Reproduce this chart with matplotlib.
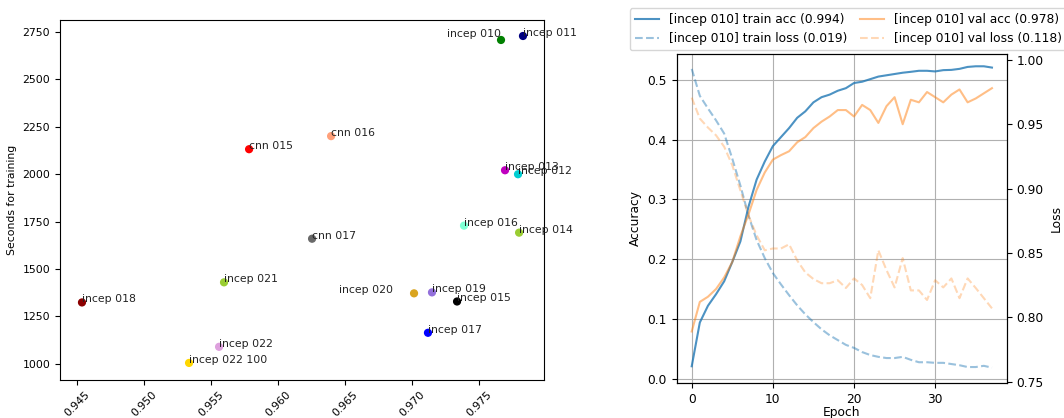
import numpy as np
import matplotlib
matplotlib.use("Agg")
import matplotlib.pyplot as plt

# --- scatter: accuracy vs training time ---
model_names = ["incep 010", "incep 011", "incep 012", "incep 013", "incep 014",
               "incep 015", "incep 016", "incep 017", "incep 018", "incep 019",
               "incep 020", "incep 021", "incep 022", "incep 022 100",
               "cnn 015", "cnn 016", "cnn 017"]
model_acc = [0.97664, 0.97828, 0.97791, 0.97694, 0.97799,
             0.97336, 0.97388, 0.97119, 0.94537, 0.97149,
             0.97015, 0.95597, 0.9556, 0.95336,
             0.95784, 0.96396, 0.96254]
model_secs = [2708, 2729, 2000, 2021, 1692,
              1329, 1729, 1164, 1324, 1377,
              1372, 1430, 1090, 1005,
              2132, 2201, 1660]
model_colors = ["green", "navy", "darkturquoise", "m", "yellowgreen",
                "black", "aquamarine", "blue", "darkred", "mediumpurple",
                "goldenrod", "yellowgreen", "plum", "gold",
                "red", "lightsalmon", "dimgray"]

# --- training history of incep 010 ---
epochs = list(range(38))
train_acc = [0.762, 0.796, 0.809, 0.818, 0.828, 0.843, 0.859, 0.886, 0.907, 0.921,
             0.933, 0.940, 0.947, 0.955, 0.960, 0.967, 0.971, 0.973, 0.976, 0.978,
             0.982, 0.983, 0.985, 0.987, 0.988, 0.989, 0.990, 0.9907, 0.9915, 0.9915,
             0.991, 0.992, 0.9922, 0.993, 0.9945, 0.995, 0.995, 0.994]
val_acc = [0.789, 0.812, 0.816, 0.822, 0.831, 0.843, 0.863, 0.880, 0.899, 0.9125,
           0.9225, 0.926, 0.929, 0.936, 0.940, 0.947, 0.952, 0.956, 0.961, 0.961,
           0.956, 0.965, 0.961, 0.951, 0.964, 0.971, 0.950, 0.969, 0.967, 0.975,
           0.971, 0.967, 0.973, 0.977, 0.967, 0.970, 0.974, 0.978]
train_loss = [0.518, 0.473, 0.452, 0.432, 0.410, 0.368, 0.323, 0.273, 0.232, 0.202,
              0.177, 0.158, 0.140, 0.123, 0.108, 0.095, 0.083, 0.073, 0.065, 0.057,
              0.052, 0.045, 0.040, 0.037, 0.035, 0.035, 0.037, 0.032, 0.028, 0.028,
              0.027, 0.027, 0.025, 0.023, 0.020, 0.020, 0.022, 0.019]
val_loss = [0.470, 0.435, 0.420, 0.407, 0.388, 0.357, 0.315, 0.273, 0.240, 0.215,
            0.218, 0.218, 0.225, 0.198, 0.178, 0.167, 0.160, 0.160, 0.165, 0.152,
            0.168, 0.157, 0.135, 0.215, 0.182, 0.153, 0.202, 0.148, 0.148, 0.132,
            0.165, 0.153, 0.168, 0.135, 0.168, 0.152, 0.135, 0.118]

# label placement tweaks (offset in points, horizontal alignment)
label_style = {"incep 010": ((0, 2), "right"), "incep 020": ((-15, 0), "right")}

fig = plt.figure(figsize=(10.64, 4.18), dpi=100)

ax1 = fig.add_axes([0.0564, 0.0909, 0.4549, 0.8611])
ax1.scatter(model_acc, model_secs, c=model_colors, s=24, zorder=3)
for name, x, y in zip(model_names, model_acc, model_secs):
    off, ha = label_style.get(name, ((0, 0), "left"))
    ax1.annotate(name, (x, y), xytext=off, textcoords="offset points",
                 ha=ha, fontsize=7.8, color="#222222")
ax1.set_xlim(0.94373, 0.97985)
ax1.set_ylim(915, 2813)
ax1.set_xticks([0.945, 0.950, 0.955, 0.960, 0.965, 0.970, 0.975])
ax1.set_yticks([1000, 1250, 1500, 1750, 2000, 2250, 2500, 2750])
ax1.tick_params(labelsize=7.8)
plt.setp(ax1.get_xticklabels(), rotation=45)
ax1.set_ylabel("Seconds for training", fontsize=7.8)

ax2 = fig.add_axes([0.636, 0.0837, 0.3104, 0.7873])
ax3 = ax2.twinx()
l1, = ax3.plot(epochs, train_acc, color="tab:blue", alpha=0.8, lw=1.5,
               label="[incep 010] train acc (%.3f)" % train_acc[-1])
l2, = ax3.plot(epochs, val_acc, color="tab:orange", alpha=0.5, lw=1.5,
               label="[incep 010] val acc (%.3f)" % val_acc[-1])
l3, = ax2.plot(epochs, train_loss, "--", color="tab:blue", alpha=0.45, lw=1.5,
               label="[incep 010] train loss (%.3f)" % train_loss[-1])
l4, = ax2.plot(epochs, val_loss, "--", color="tab:orange", alpha=0.3, lw=1.5,
               label="[incep 010] val loss (%.3f)" % val_loss[-1])
ax2.set_ylim(-0.0067, 0.543)
ax3.set_ylim(0.749, 1.0046)
ax2.set_xlim(-1.85, 38.85)
ax2.set_xticks([0, 10, 20, 30])
ax2.set_yticks([0.0, 0.1, 0.2, 0.3, 0.4, 0.5])
ax3.set_yticks([0.75, 0.80, 0.85, 0.90, 0.95, 1.00])
ax2.grid(True)
ax2.tick_params(labelsize=8.8)
ax3.tick_params(labelsize=8.8)
ax2.set_xlabel("Epoch", fontsize=8.8, labelpad=0)
ax2.set_ylabel("Accuracy", fontsize=8.8)
ax3.set_ylabel("Loss", fontsize=8.8)
ax2.legend([l1, l3, l2, l4], [h.get_label() for h in [l1, l3, l2, l4]],
           ncol=2, fontsize=8.8, loc="lower center",
           bbox_to_anchor=(0.52, 1.0), borderaxespad=0.3, columnspacing=1.0)

fig.savefig("out.png", dpi=100)
